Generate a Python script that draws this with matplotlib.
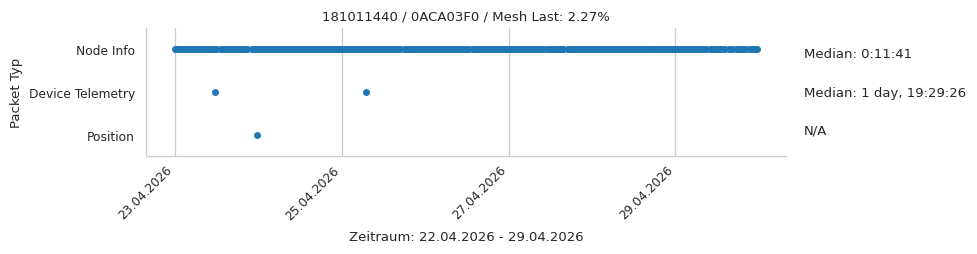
import numpy as np
import pandas as pd
import matplotlib
matplotlib.use("Agg")
import matplotlib.pyplot as plt
import matplotlib.dates as mdates

# ---------------- data ----------------
title = "181011440 / 0ACA03F0 / Mesh Last: 2.27%"
xlabel = "Zeitraum: 22.04.2026 - 29.04.2026"
ylabel = "Packet Typ"
categories = ["Node Info", "Device Telemetry", "Position"]
medians = ["Median: 0:11:41", "Median: 1 day, 19:29:26", "N/A"]

# Node Info: continuous reception spans (start, end); packets every ~11:41 (median)
node_info_spans = [
    ("2026-04-23 00:00", "2026-04-23 11:55"),
    ("2026-04-23 13:05", "2026-04-23 20:45"),
    ("2026-04-23 22:00", "2026-04-25 16:45"),
    ("2026-04-25 17:55", "2026-04-26 12:25"),
    ("2026-04-26 13:35", "2026-04-27 10:10"),
    ("2026-04-27 11:05", "2026-04-27 15:50"),
    ("2026-04-27 17:00", "2026-04-28 16:10"),
    ("2026-04-28 17:05", "2026-04-29 08:50"),
    ("2026-04-29 10:05", "2026-04-29 14:20"),
    ("2026-04-29 15:30", "2026-04-29 16:20"),
    ("2026-04-29 17:30", "2026-04-29 20:20"),
    ("2026-04-29 21:30", "2026-04-29 23:30"),
]
node_info_interval = "11min41s"

device_telemetry_times = ["2026-04-23 11:30:00", "2026-04-25 06:59:26"]
position_times = ["2026-04-23 23:40:00"]

tick_dates = ["2026-04-23", "2026-04-25", "2026-04-27", "2026-04-29"]
tick_labels = ["23.04.2026", "25.04.2026", "27.04.2026", "29.04.2026"]

# ---------------- build ----------------
node_times = []
for s, e in node_info_spans:
    node_times.extend(pd.date_range(s, e, freq=node_info_interval))
node_times = pd.DatetimeIndex(node_times)
dt_times = pd.to_datetime(device_telemetry_times)
pos_times = pd.to_datetime(position_times)

# ---------------- plot ----------------
plt.rcParams["font.family"] = ["DejaVu Sans"]
text_color = "#262626"
grid_color = "#cccccc"

fig = plt.figure(figsize=(9.77, 2.55), dpi=100)
ax = fig.add_axes([0.1494, 0.384, 0.6551, 0.502])

color = "#1f77b4"
ypos = {c: i for i, c in enumerate(categories)}
ax.scatter(node_times, np.full(len(node_times), ypos["Node Info"]), s=25, color=color, linewidths=0, zorder=3)
ax.scatter(dt_times, np.full(len(dt_times), ypos["Device Telemetry"]), s=25, color=color, linewidths=0, zorder=3)
ax.scatter(pos_times, np.full(len(pos_times), ypos["Position"]), s=25, color=color, linewidths=0, zorder=3)

ax.set_ylim(2.5, -0.5)
ax.set_yticks(range(len(categories)))
ax.set_yticklabels(categories, fontsize=8.8, color=text_color)

ax.set_xticks(mdates.date2num(pd.to_datetime(tick_dates)))
ax.set_xticklabels(tick_labels, rotation=45, ha="right", rotation_mode="default", fontsize=8.8, color=text_color)

ax.grid(axis="x", color=grid_color, linewidth=0.9)
ax.grid(axis="y", visible=False)
ax.set_axisbelow(True)
for side in ["top", "right"]:
    ax.spines[side].set_visible(False)
for side in ["left", "bottom"]:
    ax.spines[side].set_color(grid_color)
    ax.spines[side].set_linewidth(1.0)
ax.tick_params(axis="y", length=0, pad=8)
ax.tick_params(axis="x", length=0, pad=5)

ax.set_title(title, fontsize=9.5, color=text_color, pad=6)
ax.set_xlabel(xlabel, fontsize=9.5, color=text_color, labelpad=6)
ax.set_ylabel(ylabel, fontsize=9.5, color=text_color, labelpad=4)

for ypos_frac, txt in zip([0.8, 0.5, 0.2], medians):
    ax.text(1.028, ypos_frac, txt, transform=ax.transAxes, ha="left", va="center",
            fontsize=9.5, color=text_color)

fig.savefig("out.png", dpi=100)
